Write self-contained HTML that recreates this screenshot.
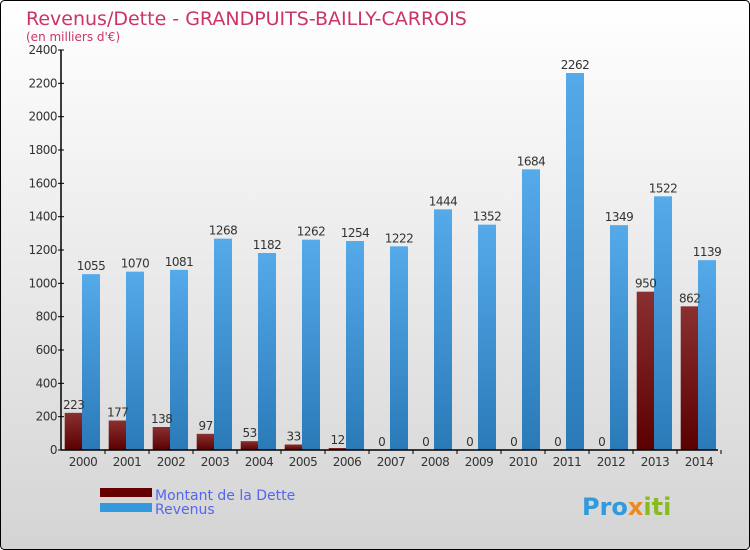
<!DOCTYPE html>
<html><head><meta charset="utf-8"><style>
body{margin:0}
#c{width:750px;height:550px;position:relative;overflow:hidden}
svg text{font-family:"DejaVu Sans","Liberation Sans",sans-serif}
</style></head><body>
<div id="c">
<svg id="s" width="750" height="550" xmlns="http://www.w3.org/2000/svg">
<defs>
<linearGradient id="bg" x1="0" y1="0" x2="0" y2="1"><stop offset="0" stop-color="#ffffff"/><stop offset="1" stop-color="#d4d4d4"/></linearGradient>
<linearGradient id="gd" x1="0" y1="0" x2="0" y2="1"><stop offset="0" stop-color="#8a3030"/><stop offset="1" stop-color="#5a0000"/></linearGradient>
<linearGradient id="gr" x1="0" y1="0" x2="0" y2="1"><stop offset="0" stop-color="#55aaea"/><stop offset="1" stop-color="#2a7ab8"/></linearGradient>
</defs>
<rect x="0.5" y="0.5" width="749" height="549" rx="4" fill="url(#bg)" stroke="#000"/>
<text x="26" y="25" font-size="19" fill="#cc3366">Revenus/Dette - GRANDPUITS-BAILLY-CARROIS</text>
<text x="26" y="41" font-size="12" fill="#cc3366">(en milliers d'€)</text>
<g id="plot"></g>
<rect x="100" y="488" width="52" height="9" fill="#660000"/>
<rect x="100" y="503" width="52" height="9" fill="#3399dd"/>
<text x="155" y="500" font-size="14" fill="#5566ee">Montant de la Dette</text>
<text x="155" y="514" font-size="14" fill="#5566ee">Revenus</text>
<text x="582" y="515" font-size="24" font-weight="bold" fill="#3399dd">Pro<tspan fill="#ee8822">x</tspan><tspan fill="#88bb22">iti</tspan></text>
</svg>
</div>
<script>
const years=["2000","2001","2002","2003","2004","2005","2006","2007","2008","2009","2010","2011","2012","2013","2014"];
const dette=[223,177,138,97,53,33,12,0,0,0,0,0,0,950,862];
const revenus=[1055,1070,1081,1268,1182,1262,1254,1222,1444,1352,1684,2262,1349,1522,1139];
const yTicks=[0,200,400,600,800,1000,1200,1400,1600,1800,2000,2200,2400];
const NS="http://www.w3.org/2000/svg";
const g=document.getElementById('plot');
const x0=61,x1=718,slot=44,yb=450,yt=50,ymax=2400;
function y(v){return yb-(v/ymax)*(yb-yt);}
function mk(t,a){const e=document.createElementNS(NS,t);for(const k in a)e.setAttribute(k,a[k]);g.appendChild(e);return e;}
yTicks.forEach(v=>{
  const l=mk('line',{x1:x0-3,x2:x0+3,y1:y(v),y2:y(v),stroke:'#000'});
  
  
  const t=mk('text',{x:x0-4,y:y(v)+4,'font-size':12,'text-anchor':'end',fill:'#333','letter-spacing':'-0.5'});
  t.textContent=v;
  
  
});
years.forEach((yr,i)=>{
  const sx=x0+i*slot;
  const dx=sx+3.7, rx=sx+21;
  const hd=yb-y(dette[i]);
  const b1=mk('rect',{x:dx,y:y(dette[i]),width:17.5,height:hd,fill:'url(#gd)'});
  
  
  const b2=mk('rect',{x:rx,y:y(revenus[i]),width:18,height:yb-y(revenus[i]),fill:'url(#gr)'});
  
  
  const t1=mk('text',{x:dx+9,y:y(dette[i])-4,'font-size':12,'text-anchor':'middle',fill:'#333','letter-spacing':'-0.5'});
  t1.textContent=dette[i];
  
  
  const t2=mk('text',{x:rx+9,y:y(revenus[i])-4,'font-size':12,'text-anchor':'middle',fill:'#333','letter-spacing':'-0.5'});
  t2.textContent=revenus[i];
  
  
  const tk=mk('line',{x1:sx+slot,x2:sx+slot,y1:yb,y2:yb+4,stroke:'#000'});
  
  
  const xl=mk('text',{x:sx+22,y:yb+16,'font-size':12,'text-anchor':'middle',fill:'#333','letter-spacing':'-0.5'});
  xl.textContent=yr;
  
  
});
const ya=mk('line',{x1:x0,x2:x0,y1:yt,y2:yb,stroke:'#000','stroke-width':1.5});


const xa=mk('line',{x1:x0,x2:x1,y1:yb,y2:yb,stroke:'#000','stroke-width':1.5});


</script>
</body></html>
